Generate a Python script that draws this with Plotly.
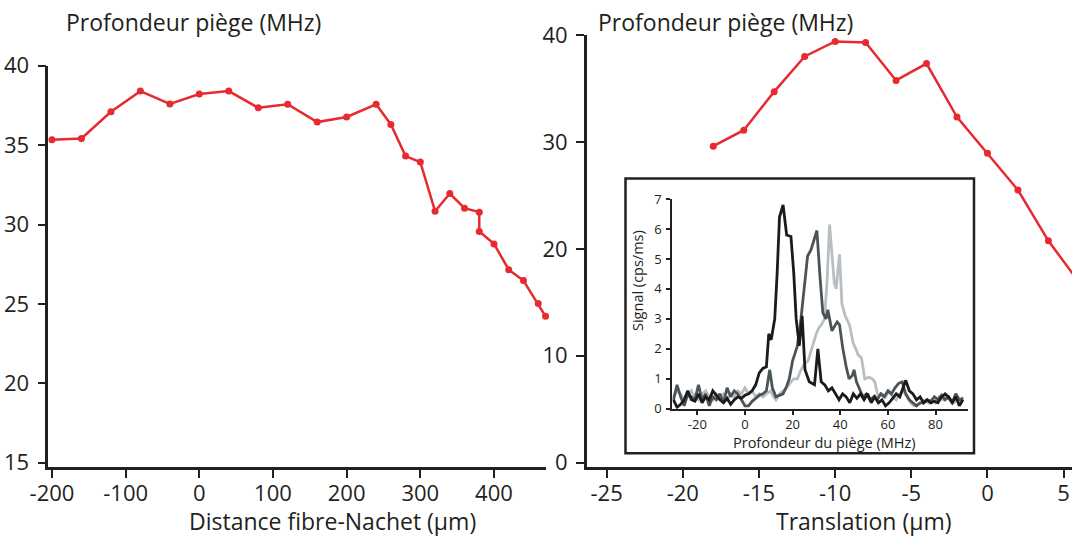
import plotly.graph_objects as go

# ---------------- data ----------------
# Left panel: trap depth vs fibre-Nachet distance
dist_um = [-200, -160, -120, -80, -40, 0, 40, 80, 120, 160, 200, 240, 260, 280, 300,
           320, 340, 360, 380, 380, 400, 420, 440, 460, 470]
depth_vs_dist = [35.33, 35.42, 37.1, 38.4, 37.59, 38.22, 38.4, 37.35, 37.57, 36.45, 36.77,
                 37.57, 36.3, 34.31, 33.93, 30.84, 31.95, 31.03, 30.78, 29.56, 28.78,
                 27.16, 26.47, 25.02, 24.22]

# Right panel: trap depth vs translation
transl_um = [-18, -16, -14, -12, -10, -8, -6, -4, -2, 0, 2, 4, 6]
depth_vs_transl = [29.6, 31.1, 34.7, 38.0, 39.4, 39.3, 35.75, 37.33, 32.33, 28.93, 25.5, 20.75, 16.9]

# Inset: signal vs trap depth (three spectra)
black_x = [-30, -28.5, -27, -25.5, -24, -22.5, -21, -19.5, -18, -16.5, -15, -13.5, -12, -10.5, -9,
           -7.5, -6, -4.5, -3, -1.5, 0, 1.5, 3, 4.5, 6, 7.5, 9, 10, 11, 12.5, 13.5, 14.5, 16, 17.5,
           19.3, 20.5, 21.5, 22.8, 24, 25.2, 27, 29.2, 30.6, 32, 33.5, 35, 36.5, 38, 39.5, 41, 42.5,
           44, 45.5, 47, 48.5, 50, 51.5, 53, 54.5, 56, 57.5, 59, 60.5, 62, 63.5, 65, 66.5, 67.5, 69,
           70.5, 72, 73.5, 75, 76.5, 78, 79.5, 81, 82.5, 84, 85.5, 87, 88.5, 90, 91.5]
black_y = [0.3, 0.05, 0.15, 0.3, 0.6, 0.3, 0.25, 0.5, 0.2, 0.4, 0.3, 0.6, 0.45, 0.3, 0.2,
           0.35, 0.15, 0.3, 0.4, 0.35, 0.45, 0.5, 0.6, 0.8, 1.2, 1.35, 1.4, 2.5, 2.3, 3.0, 4.5, 6.4, 6.8, 5.8,
           5.75, 4.5, 3.0, 2.1, 3.1, 1.3, 0.9, 0.8, 2.0, 0.9, 0.8, 0.6, 0.7, 0.5, 0.3, 0.5, 0.4,
           0.2, 0.5, 0.35, 0.5, 0.3, 0.5, 0.2, 0.4, 0.2, 0.3, 0.1, 0.2, 0.35, 0.5, 0.4, 0.75, 0.95, 0.6,
           0.5, 0.3, 0.4, 0.2, 0.3, 0.2, 0.25, 0.2, 0.4, 0.5, 0.4, 0.2, 0.4, 0.1, 0.3]

dark_x = [-30, -28.5, -27, -25.5, -24, -22.5, -21, -19.5, -18, -16.5, -15, -13.5, -12, -10.5, -9,
          -7.5, -6, -4.5, -3, -1.5, 0, 1.5, 3, 4.5, 6, 7.5, 9, 10.4, 11.5, 13, 14.5, 16, 17.5, 18.6,
          20, 21, 22, 23.5, 25, 26.3, 27.7, 29, 30.2, 31.5, 32.7, 34, 34.8, 36.5, 38.7, 39.7, 41.1,
          42.5, 43.7, 45, 45.8, 46.8, 48, 49.5, 51, 52.5, 54, 55.5, 57, 58.5, 60, 61.5, 63, 64.5, 66,
          67.5, 69, 70.5, 72, 73.5, 75, 76.5, 78, 79.5, 81, 82.5, 84, 85.5, 87, 88.5, 90, 91.5]
dark_y = [0.3, 0.8, 0.4, 0.1, 0.5, 0.4, 0.3, 0.8, 0.3, 0.5, 0.1, 0.4, 0.3, 0.5, 0.2,
          0.7, 0.4, 0.6, 0.5, 0.3, 0.1, 0.1, 0.25, 0.35, 0.45, 0.5, 0.6, 1.3, 0.7, 0.4, 0.45, 0.5, 0.75, 1.0,
          1.6, 1.85, 2.1, 3.0, 4.2, 5.1, 5.3, 5.6, 5.95, 4.4, 3.2, 3.0, 3.3, 2.6, 2.9, 2.8, 2.0,
          1.4, 1.0, 1.1, 1.3, 0.9, 0.7, 0.4, 0.5, 0.3, 0.4, 0.3, 0.5, 0.4, 0.6, 0.5, 0.7, 0.85, 0.9,
          0.5, 0.3, 0.2, 0.1, 0.2, 0.2, 0.3, 0.25, 0.4, 0.3, 0.45, 0.3, 0.4, 0.2, 0.5, 0.3, 0.35]

light_x = [-30, -28.5, -27, -25.5, -24, -22.5, -21, -19.5, -18, -16.5, -15, -13.5, -12, -10.5, -9,
           -7.5, -6, -4.5, -3, -1.5, 0, 1.5, 3, 4.5, 6, 7.5, 9, 10.8, 12, 13, 14.5, 16, 17.5, 19.3,
           20.5, 22, 23.5, 25, 26.5, 28, 29.9, 31, 32, 33.4, 34.5, 35.5, 36.5, 37.5, 38.3, 39.7, 40.7,
           42.1, 43.9, 45.4, 46.5, 47.5, 48.9, 50.3, 52, 53.5, 54.5, 55.9, 57.5, 59, 60.5, 62, 63.5,
           65, 66.5, 68, 69.5, 71, 72.5, 74, 75.5, 77, 78.5, 80, 81.5, 83, 84.5, 86, 87.5, 89, 90.5, 91.5]
light_y = [0.4, 0.6, 0.5, 0.3, 0.4, 0.6, 0.4, 0.3, 0.5, 0.6, 0.4, 0.3, 0.5, 0.4, 0.5,
           0.3, 0.5, 0.4, 0.6, 0.5, 0.7, 0.5, 0.6, 0.4, 0.5, 0.4, 0.5, 0.6, 0.4, 0.3, 0.5, 0.6, 0.7, 0.9,
           1.0, 1.0, 1.3, 1.5, 1.6, 2.0, 2.5, 2.7, 2.8, 3.0, 4.3, 6.15, 5.0, 4.2, 4.0, 5.15, 3.5,
           3.1, 2.8, 2.2, 2.0, 1.8, 1.7, 1.0, 1.05, 1.0, 0.9, 0.4, 0.5, 0.4, 0.6, 0.4, 0.3,
           0.5, 0.6, 0.4, 0.2, 0.1, 0.15, 0.2, 0.3, 0.2, 0.3, 0.2, 0.4, 0.3, 0.4, 0.3, 0.2, 0.3, 0.2, 0.4]

left_xticks = [-200, -100, 0, 100, 200, 300, 400]
left_yticks = [15, 20, 25, 30, 35, 40]
right_xticks = [-25, -20, -15, -10, -5, 0, 5]
right_yticks = [0, 10, 20, 30, 40]
inset_xticks = [-20, 0, 20, 40, 60, 80]
inset_yticks = [0, 1, 2, 3, 4, 5, 6, 7]

# ---------------- figure ----------------
W, H = 1072, 536
INK = "#231f20"
RED = "#e8292f"
FONT = "Open Sans"
BIG = 23
TICK = 22

def fx(p):
    return p / W

def fy(p):
    return 1 - p / H

fig = go.Figure()

fig.add_trace(go.Scatter(x=dist_um, y=depth_vs_dist, mode="lines+markers",
                         line=dict(color=RED, width=2.5), marker=dict(color=RED, size=7),
                         xaxis="x", yaxis="y", cliponaxis=False, showlegend=False))
fig.add_trace(go.Scatter(x=transl_um, y=depth_vs_transl, mode="lines+markers",
                         line=dict(color=RED, width=2.5), marker=dict(color=RED, size=7),
                         xaxis="x2", yaxis="y2", cliponaxis=True, showlegend=False))
for xs, ys, col in [(light_x, light_y, "#b9bec2"), (dark_x, dark_y, "#4b5557"), (black_x, black_y, "#1c1a1b")]:
    fig.add_trace(go.Scatter(x=xs, y=ys, mode="lines", line=dict(color=col, width=2.8),
                             xaxis="x3", yaxis="y3", showlegend=False))

def ax(domain, rng, ticks, size=TICK, lw=2.5, tl=8, tw=2, anchor=None, standoff=None):
    d = dict(domain=domain, range=rng, tickvals=ticks, ticktext=[str(t) for t in ticks],
             showline=True, linewidth=lw, linecolor=INK, ticks="outside", ticklen=tl,
             tickwidth=tw, tickcolor=INK, showgrid=False, zeroline=False, automargin=False,
             tickfont=dict(family=FONT, size=size, color=INK), anchor=anchor, fixedrange=True)
    if standoff is not None:
        d["ticklabelstandoff"] = standoff
    return d

fig.update_layout(
    width=W, height=H, margin=dict(l=0, r=0, t=0, b=0, pad=0, autoexpand=False),
    paper_bgcolor="white", plot_bgcolor="rgba(0,0,0,0)",
    font=dict(family=FONT, color=INK),
    xaxis=ax([fx(48.3), fx(546)], [-205, 470.6], left_xticks, anchor="y", standoff=-3),
    yaxis=ax([fy(467.2), fy(65.7)], [14.72, 40], left_yticks, anchor="x", standoff=4),
    xaxis2=ax([fx(586.7), 1.0], [-26.31, 5.55], right_xticks, anchor="y2", standoff=-3),
    yaxis2=ax([fy(467), fy(35)], [-0.4, 40], right_yticks, anchor="x2", standoff=4),
    xaxis3=ax([fx(672.3), fx(967.7)], [-30.5, 93.5], inset_xticks, size=13, lw=2, tl=4, tw=1.5,
              anchor="y3", standoff=-1),
    yaxis3=ax([fy(408.8), fy(199)], [0, 7], inset_yticks, size=13, lw=2, tl=4, tw=1.5,
              anchor="x3", standoff=2),
)

fig.add_shape(type="rect", xref="paper", yref="paper",
              x0=fx(625.5), x1=fx(974), y0=fy(453.3), y1=fy(178.5),
              line=dict(color=INK, width=2.5), fillcolor="white", layer="below")

ann = [
    dict(text="Profondeur piège (MHz)", x=fx(64), y=fy(22), xanchor="left", yanchor="middle", size=BIG),
    dict(text="Profondeur piège (MHz)", x=fx(596), y=fy(22), xanchor="left", yanchor="middle", size=BIG),
    dict(text="Distance fibre-Nachet (µm)", x=fx(332.5), y=fy(521), xanchor="center", yanchor="middle", size=BIG),
    dict(text="Translation (µm)", x=fx(864), y=fy(521), xanchor="center", yanchor="middle", size=BIG),
    dict(text="Profondeur du piège (MHz)", x=fx(824), y=fy(442), xanchor="center", yanchor="middle", size=14.5),
]
for a in ann:
    fig.add_annotation(text=a["text"], xref="paper", yref="paper", x=a["x"], y=a["y"],
                       xanchor=a["xanchor"], yanchor=a["yanchor"], showarrow=False,
                       font=dict(family=FONT, size=a["size"], color=INK))
fig.add_annotation(text="Signal (cps/ms)", xref="paper", yref="paper", x=fx(637), y=fy(281),
                   xanchor="center", yanchor="middle", showarrow=False, textangle=-90,
                   font=dict(family=FONT, size=14.5, color=INK))

fig.write_html("out.html", config={"displayModeBar": False},
               post_script="document.body.style.margin='0px';document.body.style.overflow='hidden';")
